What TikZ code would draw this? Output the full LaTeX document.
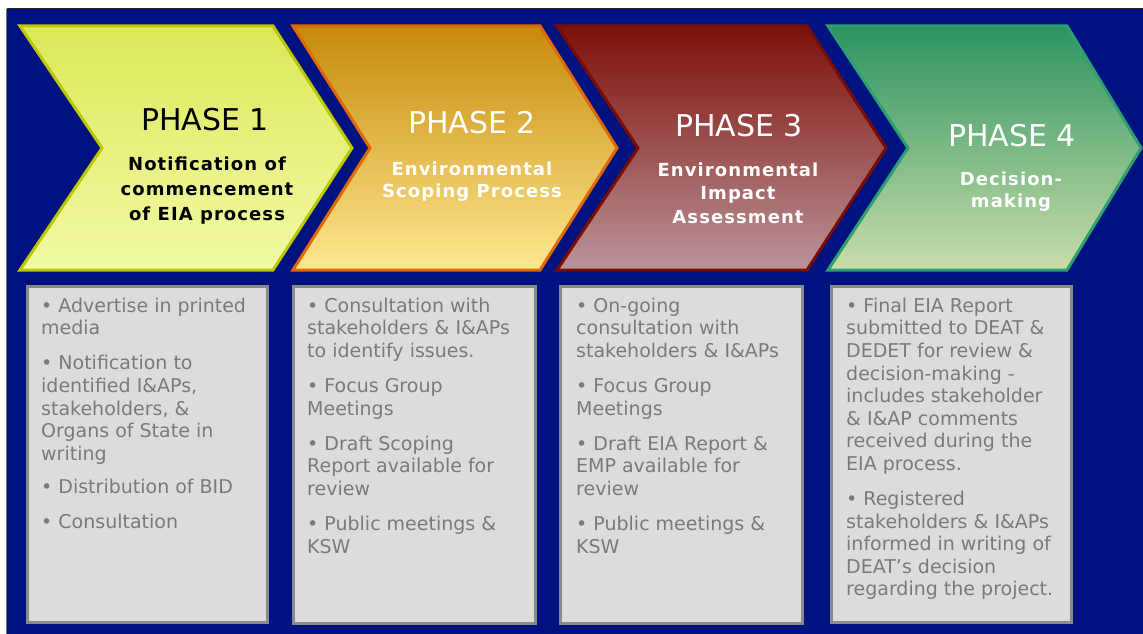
\documentclass[tikz,border=0pt]{standalone}
\usepackage{fontspec}
\setmainfont{DejaVu Sans}
\newfontfamily\subfont[LetterSpace=6]{DejaVu Sans}
\usetikzlibrary{calc}
\definecolor{navy}{HTML}{00127F}
\definecolor{aTop}{HTML}{DCE858}
\definecolor{aBot}{HTML}{F2FAA6}
\definecolor{aEdge}{HTML}{BCC800}
\definecolor{bTop}{HTML}{C68A0A}
\definecolor{bBot}{HTML}{FFE890}
\definecolor{bEdge}{HTML}{E06A00}
\definecolor{cTop}{HTML}{7E1008}
\definecolor{cBot}{HTML}{BA949A}
\definecolor{cEdge}{HTML}{7A0C00}
\definecolor{dTop}{HTML}{2C9460}
\definecolor{dBot}{HTML}{C9DDAA}
\definecolor{dEdge}{HTML}{2EA070}
\definecolor{cardfill}{HTML}{DCDCDC}
\definecolor{cardedge}{HTML}{8A8A8A}
\definecolor{txtgray}{HTML}{7A7A7A}
\begin{document}
\begin{tikzpicture}[x=1pt,y=-1pt,
  chev/.style={line width=3pt, line join=miter},
  phase/.style={font=\fontsize{30}{32}\selectfont, inner sep=0, anchor=base},
  sub/.style={font=\subfont\bfseries\fontsize{18}{#1}\selectfont, inner sep=0, anchor=north, align=center},
  card/.style={fill=cardfill, draw=cardedge, line width=3pt, inner sep=0, anchor=north west},
  boxtxt/.style={font=\fontsize{19}{22.6}\selectfont, text=txtgray, inner sep=0, anchor=north west, align=left}
]
\useasboundingbox (0,0) rectangle (1143,634);
\fill[white] (0,0) rectangle (1143,634);
\fill[navy] (7,9) rectangle (1143,634);
\draw[line width=1.2pt, color=black!85] (7,8.6) -- (1143,8.6);
\draw[line width=1.2pt, color=black!55] (6.6,9) -- (6.6,634);

% chevrons
\path[chev, top color=aTop, bottom color=aBot, draw=aEdge]
  (20,26) -- (273,26) -- (352,148) -- (273,270) -- (20,270) -- (102,148) -- cycle;
\path[chev, top color=bTop, bottom color=bBot, draw=bEdge]
  (293,26) -- (540,26) -- (617,148) -- (540,270) -- (293,270) -- (370,148) -- cycle;
\path[chev, top color=cTop, bottom color=cBot, draw=cEdge]
  (557,26) -- (807,26) -- (886,148) -- (807,270) -- (557,270) -- (638,148) -- cycle;
\path[chev, top color=dTop, bottom color=dBot, draw=dEdge]
  (828,26) -- (1067,26) -- (1141,148) -- (1067,270) -- (828,270) -- (908,148) -- cycle;

% phase titles
\node[phase, text=black] (p1) at (205,130) {PHASE 1};
\node[phase, text=white] (p2) at (472,133) {PHASE 2};
\node[phase, text=white] (p3) at (739,136) {PHASE 3};
\node[phase, text=white] (p4) at (1012,146) {PHASE 4};

\node[sub=25, text=black] (s1) at (207,152.5) {\strut Notification of\\commencement\\of EIA process};
\node[sub=22.5, text=white] (s2) at (472,159.25) {\strut Environmental\\Scoping Process};
\node[sub=23.5, text=white] (s3) at (738,159.55) {\strut Environmental\\Impact\\Assessment};
\node[sub=22.5, text=white] (s4) at (1011,169.25) {\strut Decision-\\making};

% cards
\node[card, minimum width=240, minimum height=336] (b1) at (25.5,284.5) {};
\node[card, minimum width=242, minimum height=337] (b2) at (291.5,284.5) {};
\node[card, minimum width=242, minimum height=337] (b3) at (558.5,284.5) {};
\node[card, minimum width=240, minimum height=336] (b4) at (829.5,284.5) {};

\node[boxtxt] (t1) at (41,296.2) {\strut• Advertise in printed\\
media\\[12.5pt]
• Notification to\\
identified I\&APs,\\
stakeholders, \&\\
Organs of State in\\
writing\\[10.5pt]
• Distribution of BID\\[12.5pt]
• Consultation};

\node[boxtxt] (t2) at (307,296.2) {\strut• Consultation with\\
stakeholders \& I\&APs\\
to identify issues.\\[12.5pt]
• Focus Group\\
Meetings\\[12.5pt]
• Draft Scoping\\
Report available for\\
review\\[12.5pt]
• Public meetings \&\\
KSW};

\node[boxtxt] (t3) at (576,296.2) {\strut• On-going\\
consultation with\\
stakeholders \& I\&APs\\[12.5pt]
• Focus Group\\
Meetings\\[12.5pt]
• Draft EIA Report \&\\
EMP available for\\
review\\[12.5pt]
• Public meetings \&\\
KSW};

\node[boxtxt] (t4) at (846,296.2) {\strut• Final EIA Report\\
submitted to DEAT \&\\
DEDET for review \&\\
decision-making -\\
includes stakeholder\\
\& I\&AP comments\\
received during the\\
EIA process.\\[12.5pt]
• Registered\\
stakeholders \& I\&APs\\
informed in writing of\\
DEAT’s decision\\
regarding the project.};
\end{tikzpicture}
\end{document}
